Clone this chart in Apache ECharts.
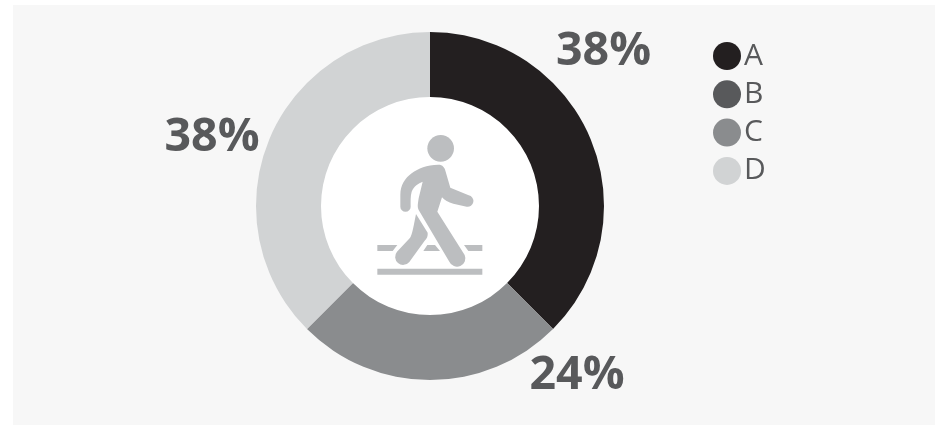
<!DOCTYPE html>
<html><head><meta charset="utf-8">
<style>html,body{margin:0;padding:0;background:#fff}#c{width:940px;height:425px}</style>
<script src="https://cdn.jsdelivr.net/npm/echarts@6/dist/echarts.min.js"></script>
</head><body><div id="c"></div>
<script>
const categories = ['A','B','C','D'];
const values = [37.5,0,25,37.5];
const printedLabels = ['38%','','24%','38%'];
const colors = ['#231f20','#58595b','#8a8c8e','#d1d3d4'];
const labelSpots = {A:[603.5,52],C:[577,376],D:[212,138]};

const chart = echarts.init(document.getElementById('c'));
const iconColor = '#bcbec0';
const bodyPath = 'M181 290 L181 255 C181 225 195 205 215 190 C235 175 260 165 295 164 C308 164 314 172 317 185 L331 233 L386 256 A17 17 0 0 1 380 290 L340 281 C325 277 313 270 306 262 L292 305 L374 435 A24 24 0 0 1 328 455 L236 300 C232 290 233 285 236 265 L248 215 C235 220 222 228 215 245 C211 258 212 275 212 290 A15.5 15.5 0 0 1 181 290 Z';
const legPath = 'M228 312 L263 368 C264 378 261 385 254 392 L208 456 A24 24 0 0 1 171 425 L209 385 C217 378 222 340 228 312 Z';
const stripes = 'M112 405 L172 405 L158 423 L112 423 Z M262 405 L285 405 L300 423 L250 423 Z M372 405 L427 405 L427 423 L385 423 Z M112 476 L427 476 L427 494 L112 494 Z';
echarts.graphic.registerShape('pedBody', echarts.graphic.extendPath(bodyPath));
echarts.graphic.registerShape('pedLeg', echarts.graphic.extendPath(legPath));
echarts.graphic.registerShape('pedStripes', echarts.graphic.extendPath(stripes));

chart.setOption({
  animation:false,
  backgroundColor:'#ffffff',
  color:colors,
  legend:{
    data:categories, orient:'vertical', left:708, top:36,
    itemWidth:28, itemHeight:28, itemGap:8.3, icon:'circle',
    selectedMode:false,
    textStyle:{fontFamily:'Open Sans',fontSize:30,lineHeight:28,color:'#58595b',padding:[0,0,0,-2]}
  },
  graphic:[
    {type:'rect',z:-10,silent:true,shape:{x:13,y:5,width:922,height:420},style:{fill:'#f7f7f7'}},
    {type:'circle',z:-5,silent:true,shape:{cx:430,cy:206,r:110},style:{fill:'#ffffff'}},
    {type:'group',x:340,y:110,scaleX:1/3,scaleY:1/3,z:10,silent:true,children:[
      {type:'circle',shape:{cx:302,cy:115,r:40},style:{fill:iconColor}},
      {type:'pedBody',style:{fill:iconColor}},
      {type:'pedLeg',style:{fill:iconColor}},
      {type:'pedStripes',style:{fill:iconColor}}
    ]}
  ],
  series:[{
    type:'pie',
    center:[430,206],
    radius:[109,174],
    startAngle:90,
    clockwise:true,
    silent:true,
    data:categories.map((name,i)=>({name,value:values[i],itemStyle:{color:colors[i]},label:{show:values[i]>0}})),
    label:{show:true,position:'outside',formatter:p=>printedLabels[p.dataIndex],
      fontFamily:'Open Sans',fontWeight:'bold',fontSize:46.5,color:'#58595b'},
    labelLine:{show:false},
    labelLayout:p=>{
      const s=labelSpots[categories[p.dataIndex]];
      return s?{x:s[0],y:s[1],align:'center',verticalAlign:'middle'}:{};
    }
  }]
});
</script></body></html>
